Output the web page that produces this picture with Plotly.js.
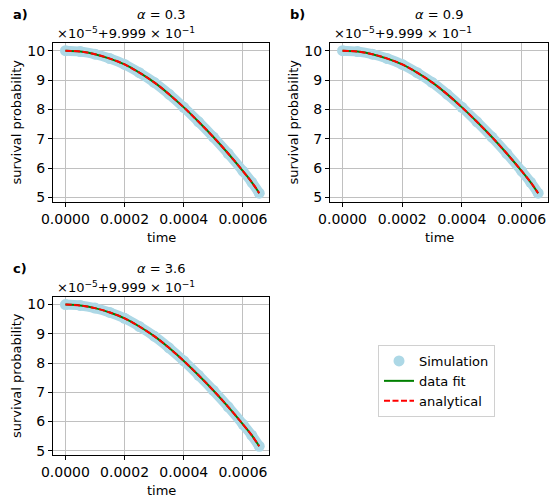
<!DOCTYPE html>
<html>
<head>
<meta charset="utf-8">
<script src="https://cdn.plot.ly/plotly-3.0.1.min.js"></script>
<style>html,body{margin:0;padding:0;background:#fff;}#chart{width:550px;height:500px;}</style>
</head>
<body>
<div id="chart"></div>
<script>
// time values (s)
var timeValues = [0, 0.00005, 0.0001, 0.00015, 0.0002, 0.00025, 0.0003, 0.00035, 0.0004, 0.00045, 0.0005, 0.00055, 0.0006, 0.00063, 0.000655];
// survival probability, shown as (value - 0.9999) * 1e5
var simulationValues = [10.00, 9.97, 9.88, 9.73, 9.53, 9.25, 8.92, 8.52, 8.07, 7.58, 7.06, 6.50, 5.90, 5.52, 5.15];
var fitValues        = [10.00, 9.97, 9.88, 9.73, 9.53, 9.25, 8.92, 8.52, 8.07, 7.58, 7.06, 6.50, 5.90, 5.52, 5.15];
var analyticalValues = [10.00, 9.97, 9.88, 9.73, 9.53, 9.25, 8.92, 8.52, 8.07, 7.58, 7.06, 6.50, 5.90, 5.52, 5.15];
var panelLabels = ["a)", "b)", "c)"];
var alphaValues = ["0.3", "0.9", "3.6"];
var xTickValues = [0, 0.0002, 0.0004, 0.0006];
var yTickValues = [5, 6, 7, 8, 9, 10];
var seriesNames = ["Simulation", "data fit", "analytical"];

var W = 550, H = 500;
var FONT = "DejaVu Sans, sans-serif";
var boxes = [
  {l: 53, r: 269, t: 43, b: 202},
  {l: 330, r: 548, t: 43, b: 202},
  {l: 53, r: 269, t: 297, b: 455}
];
var traces = [];
var layout = {
  width: W, height: H,
  margin: {l: 0, r: 0, t: 0, b: 0},
  paper_bgcolor: "#fff", plot_bgcolor: "#fff",
  font: {family: FONT, size: 13, color: "#000"},
  showlegend: true,
  legend: {
    x: 378 / W, y: 1 - 345 / H, xanchor: "left", yanchor: "top",
    bgcolor: "rgba(255,255,255,0.8)", bordercolor: "#d0d0d0", borderwidth: 1,
    font: {family: FONT, size: 13, color: "#000"},
    tracegroupgap: 0, itemwidth: 30
  },
  annotations: []
};

boxes.forEach(function (bx, i) {
  var n = i + 1;
  var xa = "x" + (n === 1 ? "" : n), ya = "y" + (n === 1 ? "" : n);
  var xKey = "xaxis" + (n === 1 ? "" : n), yKey = "yaxis" + (n === 1 ? "" : n);
  var axCommon = {
    showline: true, mirror: true, linecolor: "#000", linewidth: 1,
    ticks: "outside", ticklen: 4, tickwidth: 1, tickcolor: "#000",
    showgrid: true, gridcolor: "#c0c0c0", gridwidth: 1,
    zeroline: false, tickfont: {family: FONT, size: 14, color: "#000"}
  };
  layout[xKey] = Object.assign({}, axCommon, {
    domain: [bx.l / W, bx.r / W], anchor: ya,
    range: [-0.000042, 0.000688], tickvals: xTickValues, tickformat: ".4f"
  });
  layout[yKey] = Object.assign({}, axCommon, {
    domain: [1 - bx.b / H, 1 - bx.t / H], anchor: xa,
    range: [4.85, 10.26], tickvals: yTickValues, tickformat: "d"
  });
  traces.push({
    x: timeValues, y: simulationValues, xaxis: xa, yaxis: ya,
    mode: "lines+markers", line: {color: "#ADD8E6", width: 10, shape: "spline"},
    marker: {color: "#ADD8E6", size: 11}, showlegend: false, hoverinfo: "skip"
  });
  traces.push({
    x: timeValues, y: fitValues, xaxis: xa, yaxis: ya,
    mode: "lines", line: {color: "#008000", width: 2, shape: "spline"},
    showlegend: false, hoverinfo: "skip"
  });
  traces.push({
    x: timeValues, y: analyticalValues, xaxis: xa, yaxis: ya,
    mode: "lines", line: {color: "#ff0000", width: 2, dash: "6px,2.5px", shape: "spline"},
    showlegend: false, hoverinfo: "skip"
  });
  var cx = (bx.l + bx.r) / 2;
  layout.annotations.push({
    xref: "paper", yref: "paper", x: cx / W, y: 1 - (bx.t - 29) / H,
    xanchor: "center", yanchor: "middle", showarrow: false,
    text: "<i>α</i> = " + alphaValues[i], font: {family: FONT, size: 13, color: "#000"}
  });
  layout.annotations.push({
    xref: "paper", yref: "paper", x: (bx.l - 42) / W, y: 1 - (bx.t - 29) / H,
    xanchor: "left", yanchor: "middle", showarrow: false,
    text: "<b>" + panelLabels[i] + "</b>", font: {family: FONT, size: 13, color: "#000"}
  });
  layout.annotations.push({
    xref: "paper", yref: "paper", x: (bx.l + 2) / W, y: 1 - (bx.t - 10) / H,
    xanchor: "left", yanchor: "middle", showarrow: false,
    text: "×10<sup>−5</sup>+9.999 × 10<sup>−1</sup>", font: {family: FONT, size: 13, color: "#000"}
  });
  layout.annotations.push({
    xref: "paper", yref: "paper", x: (bx.l - 37) / W, y: 1 - ((bx.t + bx.b) / 2) / H,
    xanchor: "center", yanchor: "middle", showarrow: false, textangle: -90,
    text: "survival probability", font: {family: FONT, size: 13, color: "#000"}
  });
  layout.annotations.push({
    xref: "paper", yref: "paper", x: cx / W, y: 1 - (bx.b + 35) / H,
    xanchor: "center", yanchor: "middle", showarrow: false,
    text: "time", font: {family: FONT, size: 13, color: "#000"}
  });
});

// legend entries
traces.push({x: [null], y: [null], mode: "markers", name: seriesNames[0],
  marker: {color: "#ADD8E6", size: 11}, hoverinfo: "skip"});
traces.push({x: [null], y: [null], mode: "lines", name: seriesNames[1],
  line: {color: "#008000", width: 2}, hoverinfo: "skip"});
traces.push({x: [null], y: [null], mode: "lines", name: seriesNames[2],
  line: {color: "#ff0000", width: 2, dash: "6px,2.5px"}, hoverinfo: "skip"});

Plotly.newPlot("chart", traces, layout, {staticPlot: true, displayModeBar: false});
</script>
</body>
</html>
